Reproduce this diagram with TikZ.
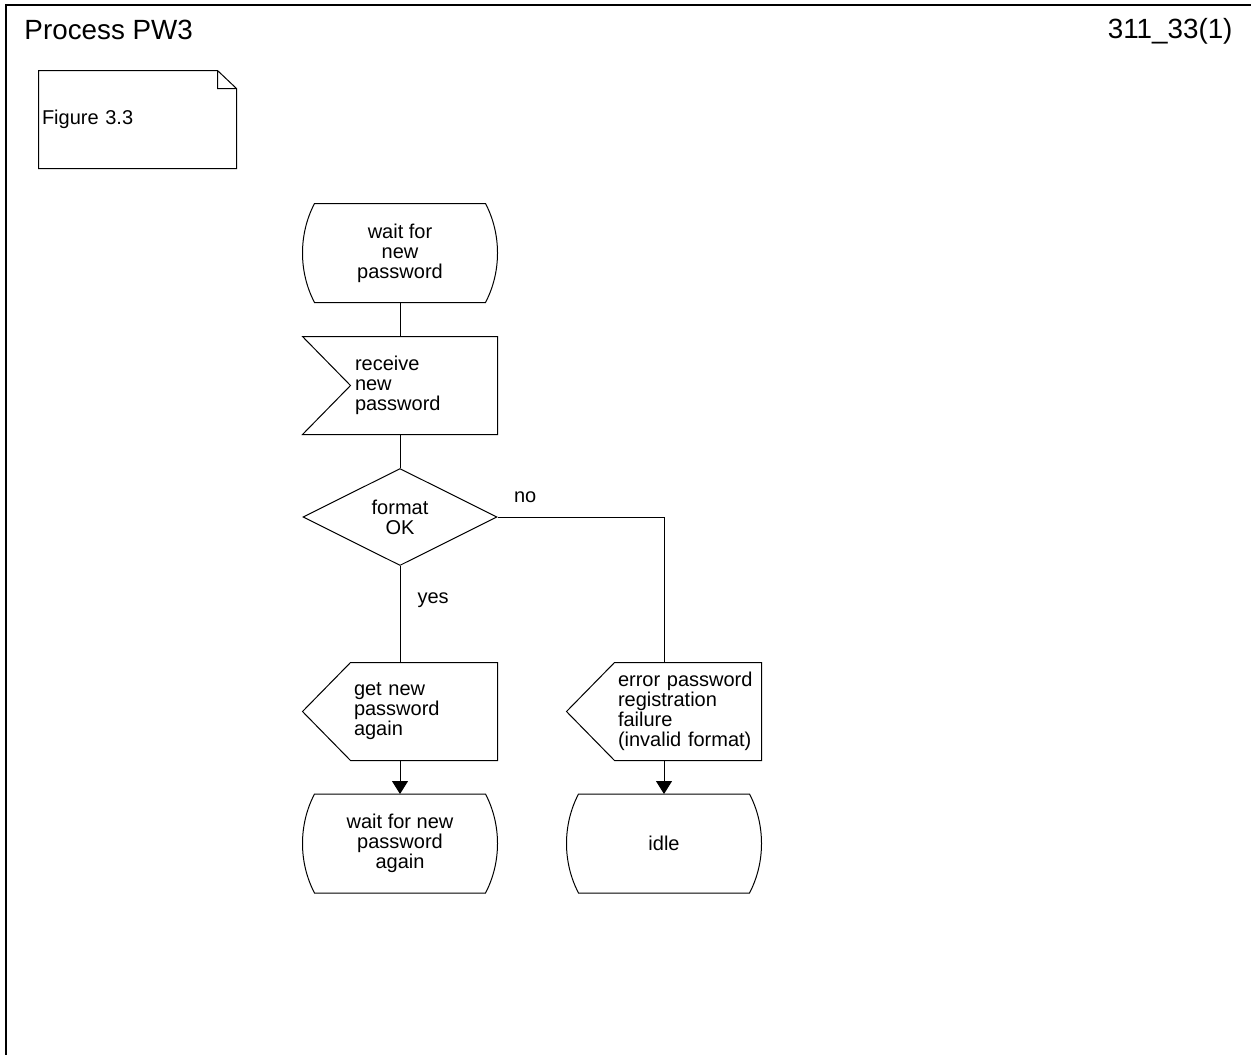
\documentclass[tikz,border=0pt]{standalone}
\usepackage{fontspec}
\setmainfont{Liberation Sans}
\usetikzlibrary{arrows.meta, shapes.geometric}

\tikzset{
	every node/.style = {font = \fontsize{10pt}{10pt}\selectfont},
	plain/.style = {inner sep = 0pt, anchor = base west},
	sdlstate/.style = {minimum width = 97pt, minimum height = 49pt, inner sep = 0pt, align = center,
		append after command = {\pgfextra{\draw ([xshift = 6pt]\tikzlastnode.north west) -- ([xshift = -6pt]\tikzlastnode.north east) .. controls ([xshift = 2pt, yshift = -15.3pt]\tikzlastnode.north east) and ([xshift = 2pt, yshift = 15.3pt]\tikzlastnode.south east) .. ([xshift = -6pt]\tikzlastnode.south east) -- ([xshift = 6pt]\tikzlastnode.south west) .. controls ([xshift = -2pt, yshift = 15.3pt]\tikzlastnode.south west) and ([xshift = -2pt, yshift = -15.3pt]\tikzlastnode.north west) .. ([xshift = 6pt]\tikzlastnode.north west) -- cycle;}}},
	sdldecision/.style = {draw, diamond, aspect = 2, minimum width = 97pt, minimum height = 48.5pt, inner sep = 0pt, align = center},
	sdlinput/.style = {minimum height = 48.5pt, inner xsep = 2pt, text width = 69pt, align = left,
		append after command = {\pgfextra{\draw ([xshift = -24pt]\tikzlastnode.north west) -- (\tikzlastnode.north east) -- (\tikzlastnode.south east) -- ([xshift = -24pt]\tikzlastnode.south west) -- (\tikzlastnode.west) -- cycle;}}},
	sdloutput/.style = {minimum height = 48.5pt, inner xsep = 1.5pt, text width = 70pt, align = left,
		append after command = {\pgfextra{\draw (\tikzlastnode.north west) -- (\tikzlastnode.north east) -- (\tikzlastnode.south east) -- (\tikzlastnode.south west) -- ([xshift = -24pt]\tikzlastnode.west) -- cycle;}}},
	sdlnote/.style = {minimum height = 48.5pt, inner xsep = 1.5pt, text width = 95.5pt, align = left,
		append after command = {\pgfextra{\draw (\tikzlastnode.north west) -- ([xshift = -9.5pt]\tikzlastnode.north east) -- ([yshift = -9pt]\tikzlastnode.north east) -- (\tikzlastnode.south east) -- (\tikzlastnode.south west) -- cycle ([xshift = -9.5pt]\tikzlastnode.north east) |- ([yshift = -9pt]\tikzlastnode.north east);}}},
	flow/.style = {-{Triangle[length = 6.5pt, width = 8pt]}},
}

\begin{document}
\begin{tikzpicture}[x = 0.5pt, y = -0.5pt, line width = 0.5pt]
	\useasboundingbox (0,0) rectangle (1251,1055);
	\draw[line width = 0.75pt] (1251,5) -- (6,5) -- (6,1055);
	\node[plain, font = \fontsize{13.9pt}{13.9pt}\selectfont](TITLE) at (24,39){Process PW3};
	\node[plain, anchor = base east, font = \fontsize{13.9pt}{13.9pt}\selectfont](PAGE) at (1233,38){311\_33(1)};
	\node[sdlnote](NOTE) at (137.5,119.5){Figure 3.3};

	\node[sdlstate](S1) at (400,253){wait for\\new\\password};
	\node[sdlinput](IN) at (424,385.5){receive\\new\\password};
	\node[sdldecision](DEC) at (400,517){format\\OK};
	\node[sdloutput](OUT1) at (424,711.5){get new\\password\\again};
	\node[sdloutput](OUT2) at (688,711.5){error password\\registration\\failure\\(invalid format)};
	\node[sdlstate](S2) at (400,843.5){wait for new\\password\\again};
	\node[sdlstate](S3) at (664,843.5){idle};

	\draw
	(S1.south) -- (S1.south |- IN.north)
	(S1.south |- IN.south) -- (DEC.north)
	(DEC.south) -- (DEC.south |- OUT1.north)
	(DEC.east) -| (S3.north |- OUT2.north)
	(DEC.south) ++(17,37) node[plain](YES){yes}
	(DEC.east) ++(16,-15) node[plain](NO){no}
	;
	\draw[flow] (S2.north |- OUT1.south) -- (S2.north);
	\draw[flow] (S3.north |- OUT2.south) -- (S3.north);
\end{tikzpicture}
\end{document}
